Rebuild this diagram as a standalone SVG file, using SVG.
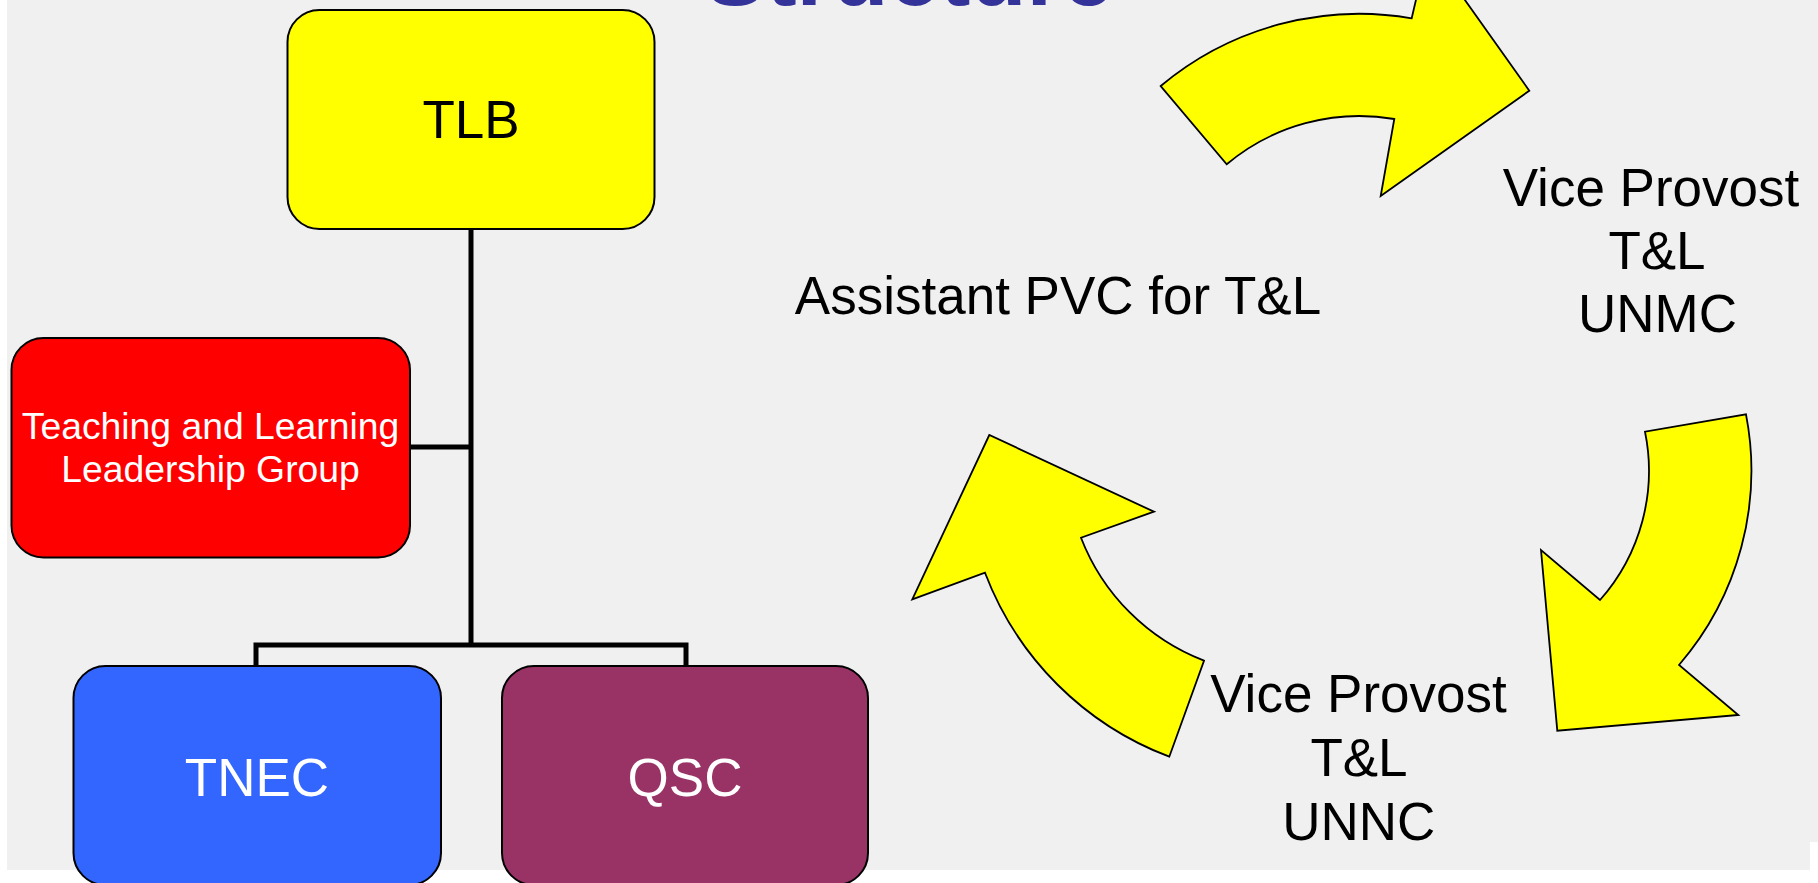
<svg xmlns="http://www.w3.org/2000/svg" width="1818" height="883" viewBox="0 0 1818 883">
<style>
.box{stroke:#000;stroke-width:2}
.t{font-family:"Liberation Sans",Arial,sans-serif;text-anchor:middle}
.arrow{fill:#ffff00;stroke:#000;stroke-width:1.8;stroke-linejoin:miter}
.conn{fill:none;stroke:#000;stroke-width:5}
</style>
<rect width="1818" height="883" fill="#ffffff"/>
<path d="M7,0 H1818 V842 H1810 V870 H7 Z" fill="#f0f0f0"/>
<text class="t" x="909" y="5" font-size="92" font-weight="bold" fill="#333399">Structure</text>
<g id="connectors">
<path class="conn" d="M471,229 V645"/>
<path class="conn" d="M410,447 H471"/>
<path class="conn" d="M256,666 V645 H686 V666"/>
</g>
<g id="tlb">
<rect class="box" x="287.5" y="10" width="367" height="219" rx="32" fill="#ffff00"/>
<text class="t" x="471" y="138" font-size="53" fill="#000">TLB</text>
</g>
<g id="tllg">
<rect class="box" x="11.5" y="338" width="398.5" height="219.5" rx="32" fill="#ff0000"/>
<text class="t" x="210.5" y="438.5" font-size="37.3" fill="#fff">Teaching and Learning</text>
<text class="t" x="210.5" y="482" font-size="37.3" fill="#fff">Leadership Group</text>
</g>
<g id="tnec">
<rect class="box" x="73.5" y="666" width="367.5" height="219" rx="32" fill="#3366ff"/>
<text class="t" x="257" y="796" font-size="53" fill="#fff">TNEC</text>
</g>
<g id="qsc">
<rect class="box" x="502" y="666" width="366" height="219" rx="32" fill="#993366"/>
<text class="t" x="685" y="796" font-size="53" fill="#fff">QSC</text>
</g>
<g id="assistant">
<text class="t" x="1058" y="314" font-size="53" fill="#000">Assistant PVC for T&amp;L</text>
</g>
<g id="vp-unmc">
<text class="t" x="1651" y="205.5" font-size="53" fill="#000">Vice Provost</text>
<text class="t" x="1657" y="268.5" font-size="53" fill="#000">T&amp;L</text>
<text class="t" x="1657.5" y="332" font-size="53" fill="#000">UNMC</text>
</g>
<g id="vp-unnc">
<text class="t" x="1358.5" y="712" font-size="53" fill="#000">Vice Provost</text>
<text class="t" x="1359" y="776" font-size="53" fill="#000">T&amp;L</text>
<text class="t" x="1358.8" y="840" font-size="53" fill="#000">UNNC</text>
</g>
<g id="arrow-top">
<path class="arrow" d="M1160.7,86 A309 309 0 0 1 1411.7,18.3 L1428,-52 L1529.3,90.7 L1380.7,196 L1394.3,119 A206.6 206.6 0 0 0 1226.7,164.3 Z"/>
</g>
<g id="arrow-right">
<path class="arrow" d="M1746,414.3 A297.3 297.3 0 0 1 1679,665 L1738.3,715 L1557.3,730.7 L1541,550 L1600,600 A195 195 0 0 0 1645,431.7 Z"/>
</g>
<g id="arrow-left">
<path class="arrow" d="M1169.3,756.7 A317 317 0 0 1 985,572.7 L912.3,599.3 L989.3,435 L1154,511.7 L1081,537.7 A215 215 0 0 0 1204,660.7 Z"/>
</g>
</svg>
